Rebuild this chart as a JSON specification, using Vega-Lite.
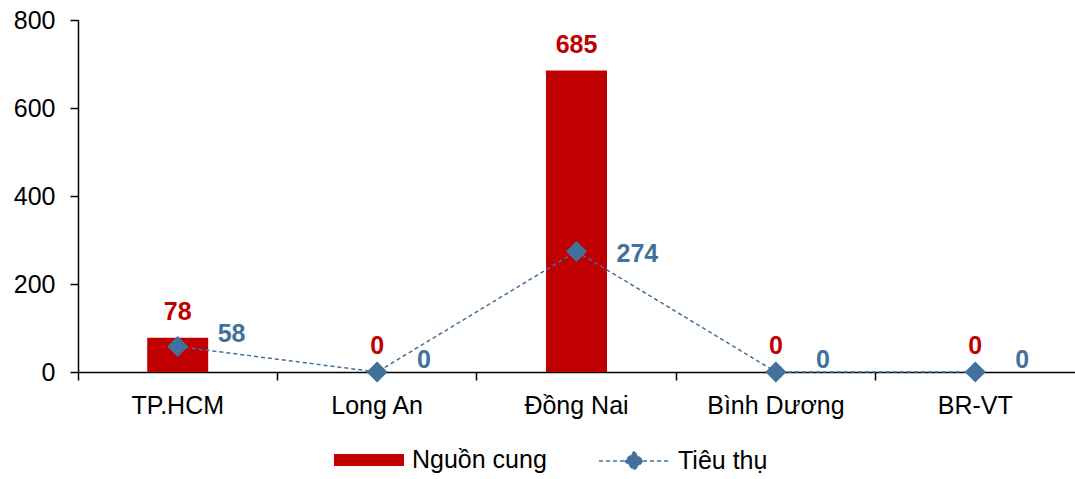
{
  "$schema": "https://vega.github.io/schema/vega-lite/v6.json",
  "width": 997,
  "height": 352,
  "autosize": {"type": "none"},
  "padding": {"left": 78, "top": 20, "right": 0, "bottom": 107},
  "config": {
    "view": {"stroke": null},
    "font": "Liberation Sans",
    "axis": {"labelFont": "Liberation Sans", "labelFontSize": 25, "labelColor": "#000000", "domainColor": "#000000", "tickColor": "#000000", "domainWidth": 1.5, "tickWidth": 1.5, "grid": false, "title": null}
  },
  "data": {
    "values": [
      {"region": "TP.HCM", "supply": 78, "consumption": 58},
      {"region": "Long An", "supply": 0, "consumption": 0},
      {"region": "Đồng Nai", "supply": 685, "consumption": 274},
      {"region": "Bình Dương", "supply": 0, "consumption": 0},
      {"region": "BR-VT", "supply": 0, "consumption": 0}
    ]
  },
  "encoding": {
    "x": {
      "field": "region", "type": "nominal", "sort": null,
      "scale": {"paddingInner": 0, "paddingOuter": 0},
      "axis": {"labelAngle": 0, "bandPosition": 0, "tickSize": 8, "labelPadding": 13, "labelAlign": "center"}
    }
  },
  "layer": [
    {
      "mark": {"type": "bar", "size": 61},
      "encoding": {
        "y": {"field": "supply", "type": "quantitative", "scale": {"domain": [0, 800]}, "axis": {"values": [0, 200, 400, 600, 800], "tickSize": 8, "labelPadding": 15}},
        "fill": {"datum": "Nguồn cung", "type": "nominal", "scale": {"range": ["#C00000"]},
          "legend": {"orient": "none", "legendX": 256, "legendY": 405, "title": null, "symbolType": "M-1,-0.17L1,-0.17L1,0.17L-1,0.17Z", "symbolSize": 4900, "symbolStrokeWidth": 0, "labelFont": "Liberation Sans", "labelFontSize": 25, "labelColor": "#000000", "labelOffset": 8, "padding": 0}}
      }
    },
    {
      "mark": {"type": "text", "dy": -26, "fontSize": 25, "fontWeight": "bold", "color": "#C00000", "baseline": "middle"},
      "encoding": {
        "y": {"field": "supply", "type": "quantitative"},
        "text": {"field": "supply", "type": "quantitative"}
      }
    },
    {
      "mark": {"type": "line", "strokeDash": [4, 3], "strokeWidth": 1.5, "point": {"filled": true, "shape": "diamond", "size": 330, "color": "#41719C"}},
      "encoding": {
        "y": {"field": "consumption", "type": "quantitative"},
        "stroke": {"datum": "Tiêu thụ", "type": "nominal", "scale": {"range": ["#41719C"]},
          "legend": {"orient": "none", "legendX": 520, "legendY": 405, "title": null, "symbolType": "M-1,0L-0.26,0M0.26,0L1,0M0,-0.26L0.26,0L0,0.26L-0.26,0Z", "symbolSize": 4900, "symbolStrokeWidth": 1.5, "symbolDash": [4, 3], "symbolFillColor": "#41719C", "labelFont": "Liberation Sans", "labelFontSize": 25, "labelColor": "#000000", "labelOffset": 8, "padding": 0}}
      }
    },
    {
      "transform": [{"filter": "datum.consumption < 100"}],
      "mark": {"type": "text", "dx": 40, "dy": -12, "fontSize": 25, "fontWeight": "bold", "color": "#41719C", "baseline": "middle", "align": "left"},
      "encoding": {
        "y": {"field": "consumption", "type": "quantitative"},
        "text": {"field": "consumption", "type": "quantitative"}
      }
    },
    {
      "transform": [{"filter": "datum.consumption >= 100"}],
      "mark": {"type": "text", "dx": 40, "dy": 3, "fontSize": 25, "fontWeight": "bold", "color": "#41719C", "baseline": "middle", "align": "left"},
      "encoding": {
        "y": {"field": "consumption", "type": "quantitative"},
        "text": {"field": "consumption", "type": "quantitative"}
      }
    }
  ]
}
